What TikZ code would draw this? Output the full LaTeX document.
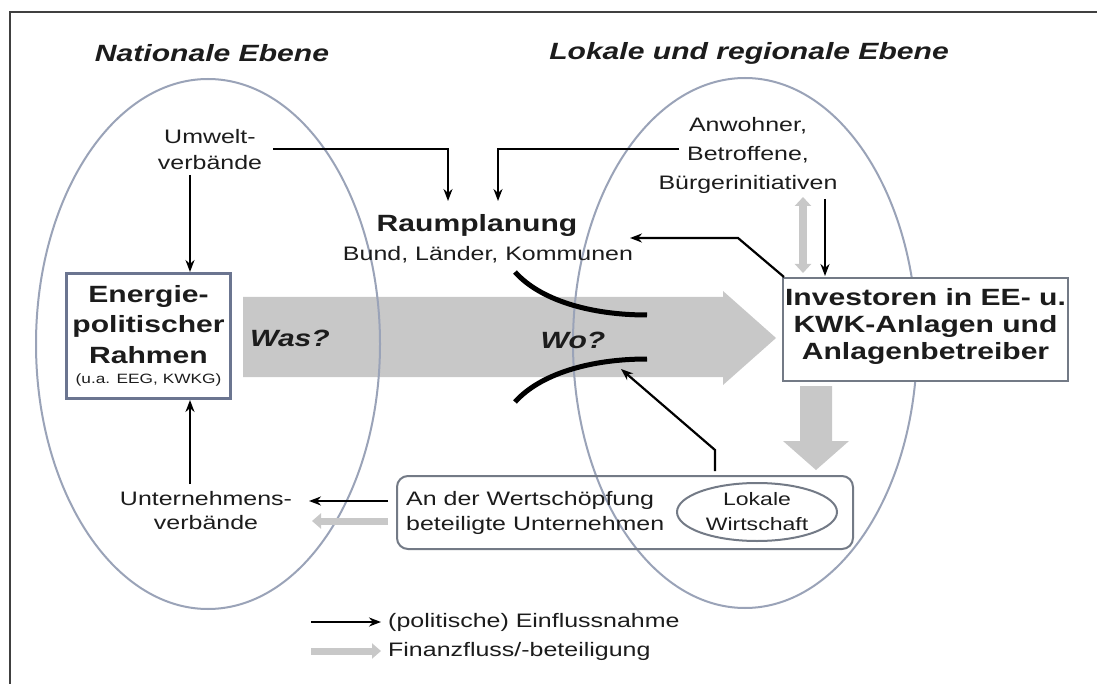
\documentclass[tikz,border=0pt]{standalone}
\usepackage{fontspec}
\setmainfont[FakeStretch=1.28]{Liberation Sans}
\usetikzlibrary{arrows.meta}
\definecolor{ellc}{HTML}{9AA3B8}
\definecolor{boxc}{HTML}{6B7590}
\definecolor{boxg}{HTML}{737A86}
\definecolor{flow}{HTML}{C8C8C8}
\definecolor{txt}{HTML}{1C1C1C}
\tikzset{
  reg/.style={text=txt,font=\fontsize{19.5}{28}\selectfont,align=center,inner sep=0pt},
  bld/.style={text=txt,font=\bfseries\fontsize{23.5}{27}\selectfont,align=center,inner sep=0pt},
  ttl/.style={text=txt,font=\bfseries\itshape\fontsize{23.5}{28}\selectfont,inner sep=0pt},
  infl/.style={draw=black,line width=2.2pt,-{Stealth[length=12pt,width=9pt]}},
  fin/.style={draw=flow,line width=7pt,-{Triangle[length=9pt,width=15pt]}},
  lvl/.style={draw=ellc,line width=2pt},
  curv/.style={draw=black,line width=5pt},
}
\begin{document}
\begin{tikzpicture}[x=1pt,y=-1pt]
\useasboundingbox (0,0) rectangle (1097,684);
\fill[white] (0,0) rectangle (1097,684);
% frame
\draw[line width=2.5pt,color=black!75] (10,684) -- (10,12) -- (1097,12);

% titles
\node[ttl] (tnat) at (212,53) {Nationale Ebene};
\node[ttl] (tlok) at (749,53) {Lokale und regionale Ebene};

% big grey arrow
\fill[flow] (243,297) -- (723,297) -- (723,291) -- (776,338) -- (723,385) -- (723,377) -- (243,377) -- cycle;

% level ellipses
\draw[lvl] (208,344) ellipse [x radius=172, y radius=265];
\draw[lvl] (745,343) ellipse [x radius=172, y radius=265];

% curves
\draw[curv] (515,272) .. controls (540,300) and (590,315) .. (647,315);
\draw[curv] (515,402) .. controls (540,374) and (590,359) .. (647,359);

\node[ttl] (was) at (290,338) {Was?};
\node[ttl] (wo) at (573,340) {Wo?};

% Energiepolitischer Rahmen
\node[draw=boxc,line width=3pt,fill=white,minimum width=164pt,minimum height=124pt,inner sep=0pt] (rahmen) at (148.5,336) {};
\node[bld] (r1) at (148.5,296) {Energie-};
\node[bld] (r2) at (148.5,326) {politischer};
\node[bld] (r3) at (148.5,355) {Rahmen};
\node[reg,font=\fontsize{13.5}{16}\selectfont] (r4) at (148.5,380) {(u.a. EEG, KWKG)};

% Investoren
\node[draw=boxg,line width=2pt,fill=white,minimum width=285pt,minimum height=103pt,inner sep=0pt] (inv) at (925.5,329.5) {};
\node[bld] (invt) at (925.5,326) {Investoren in EE- u.\\KWK-Anlagen und\\Anlagenbetreiber};

% Wertschoepfung
\node[draw=boxg,line width=2pt,rounded corners=11pt,minimum width=456pt,minimum height=73pt,inner sep=0pt] (wert) at (625,512.5) {};
\node[reg,align=left,anchor=west,font=\fontsize{19.5}{25}\selectfont] (wertt) at (406,512.5) {An der Wertschöpfung\\beteiligte Unternehmen};
\draw[draw=boxg,line width=2pt] (757,512) ellipse [x radius=80, y radius=29];
\node[reg,font=\fontsize{18}{25}\selectfont] (lok) at (757,512) {Lokale\\Wirtschaft};

% other actors
\node[reg,font=\fontsize{19.5}{26}\selectfont] (umw) at (210,150) {Umwelt-\\verbände};
\node[reg,font=\fontsize{19.5}{29}\selectfont] (anw) at (748,155) {Anwohner,\\Betroffene,\\Bürgerinitiativen};
\node[bld,font=\bfseries\fontsize{23.5}{28}\selectfont] (raum) at (477,225) {Raumplanung};
\node[reg] (bund) at (488,255) {Bund, Länder, Kommunen};
\node[reg,font=\fontsize{19.5}{24}\selectfont] (unt) at (206,511) {Unternehmens-\\verbände};

% coordinates
\coordinate (umwR) at (273,149);
\coordinate (raumL) at (448,201);
\coordinate (anwL) at (679,149);
\coordinate (raumR) at (498,201);
\coordinate (umwB) at (190,175);
\coordinate (rahT) at (190,272);
\coordinate (untT) at (190,484);
\coordinate (rahB) at (190,400);
\coordinate (wertL) at (388,501);
\coordinate (untR) at (309,501);
\coordinate (wertL2) at (388,521);
\coordinate (untR2) at (312,521);
\coordinate (invTL) at (784,277);
\coordinate (kink1) at (738,238);
\coordinate (bundR) at (630,238);
\coordinate (anwB) at (825,199);
\coordinate (invT) at (825,276);
\coordinate (lokT) at (715,471);
\coordinate (kink2) at (715,450);
\coordinate (woR) at (621,369);

% influence arrows
\draw[infl] (umwR) -| (raumL);
\draw[infl] (anwL) -| (raumR);
\draw[infl] (umwB) -- (rahT);
\draw[infl] (untT) -- (rahB);
\draw[infl] (wertL) -- (untR);
\draw[infl] (invTL) -- (kink1) -- (bundR);
\draw[infl] (anwB) -- (invT);
\draw[infl] (lokT) -- (kink2) -- (woR);

% finance flows
\draw[draw=flow,line width=8pt,{Triangle[length=9pt,width=16pt]}-{Triangle[length=9pt,width=16pt]}] (803,197) -- (803,273);
\draw[fin] (wertL2) -- (untR2);
\fill[flow] (800,386) -- (832,386) -- (832,441) -- (849,441) -- (816,470) -- (783,441) -- (800,441) -- cycle;

% legend
\coordinate (lg1a) at (311,622);
\coordinate (lg1b) at (381,622);
\coordinate (lg2a) at (311,651);
\coordinate (lg2b) at (381,651);
\draw[infl] (lg1a) -- (lg1b);
\draw[fin] (lg2a) -- (lg2b);
\node[reg,anchor=west] (leg1) at (388,622) {(politische) Einflussnahme};
\node[reg,anchor=west] (leg2) at (388,651) {Finanzfluss/-beteiligung};
\end{tikzpicture}
\end{document}
